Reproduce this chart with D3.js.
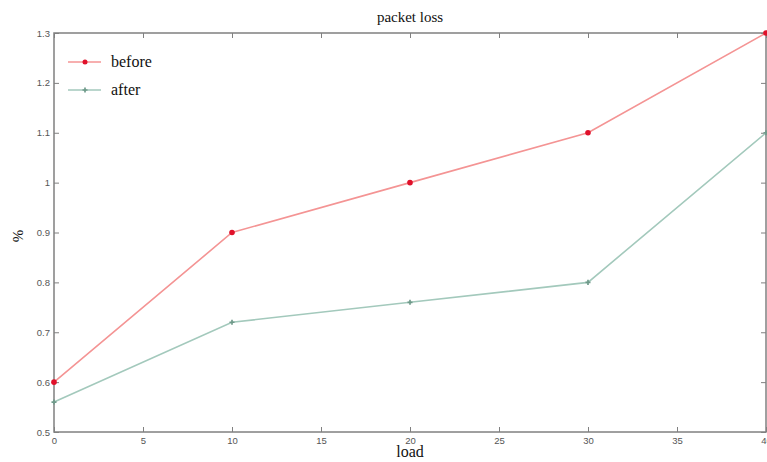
<!DOCTYPE html>
<html><head><meta charset="utf-8">
<script src="https://cdn.jsdelivr.net/npm/d3@7"></script>
<style>body{margin:0;background:#fff;overflow:hidden}</style>
</head><body>
<svg id="c" width="767" height="462"></svg>
<script>
const loads = [0, 10, 20, 30, 40];
const before = [0.6, 0.9, 1.0, 1.1, 1.3];
const after = [0.56, 0.72, 0.76, 0.8, 1.1];
const xTicks = [0, 5, 10, 15, 20, 25, 30, 35, 40];
const yTicks = [0.5, 0.6, 0.7, 0.8, 0.9, 1, 1.1, 1.2, 1.3];
const seriesNames = ["before", "after"];

const svg = d3.select("#c");
const L = 54, R = 766, T = 33, B = 432;
const x = d3.scaleLinear().domain([0, 40]).range([L, R]);
const y = d3.scaleLinear().domain([0.5, 1.3]).range([B, T]);
const axisCol = "#808080";

svg.append("rect").attr("x", L).attr("y", T).attr("width", R - L).attr("height", B - T)
  .attr("fill", "none").attr("stroke", axisCol).attr("stroke-width", 1.5);

const gx = svg.append("g").attr("transform", `translate(0,${B})`)
  .call(d3.axisBottom(x).tickValues(xTicks).tickSize(-5).tickPadding(5).tickFormat(d3.format("d")));
const gxt = svg.append("g").attr("transform", `translate(0,${T})`)
  .call(d3.axisTop(x).tickValues(xTicks).tickSize(-5).tickFormat(""));
const gy = svg.append("g").attr("transform", `translate(${L},0)`)
  .call(d3.axisLeft(y).tickValues(yTicks).tickSize(-5).tickPadding(4).tickFormat(d => String(+d.toFixed(1))));
const gyr = svg.append("g").attr("transform", `translate(${R},0)`)
  .call(d3.axisRight(y).tickValues(yTicks).tickSize(-5).tickFormat(""));
[gx, gxt, gy, gyr].forEach(g => {
  g.select(".domain").remove();
  g.selectAll("line").attr("stroke", axisCol).attr("stroke-width", 1);
  g.selectAll("text").attr("fill", "#555").attr("font-family", "Liberation Sans, Arial, sans-serif").attr("font-size", 9.5);
});

const line = d3.line().x((d, i) => x(loads[i])).y(d => y(d));
const colors = { before: "#f49494", after: "#a3c9bc" };
const markCols = { before: "#e0102a", after: "#6f9a8a" };

svg.append("path").datum(after).attr("d", line).attr("fill", "none").attr("stroke", colors.after).attr("stroke-width", 1.6);
svg.append("path").datum(before).attr("d", line).attr("fill", "none").attr("stroke", colors.before).attr("stroke-width", 1.6);

svg.selectAll(".mb").data(before).enter().append("circle")
  .attr("cx", (d, i) => x(loads[i])).attr("cy", d => y(d)).attr("r", 2.8).attr("fill", markCols.before);
const plus = d3.symbol().type(d3.symbolCross).size(14);
svg.selectAll(".ma").data(after).enter().append("path")
  .attr("transform", (d, i) => `translate(${x(loads[i])},${y(d)})`)
  .attr("d", plus).attr("fill", markCols.after);

seriesNames.forEach((s, i) => {
  const ly = 62 + i * 28;
  svg.append("line").attr("x1", 68).attr("x2", 101).attr("y1", ly).attr("y2", ly)
    .attr("stroke", colors[s]).attr("stroke-width", 1.6);
  if (s === "before") svg.append("circle").attr("cx", 85).attr("cy", ly).attr("r", 2.5).attr("fill", markCols.before);
  else svg.append("path").attr("transform", `translate(85,${ly})`).attr("d", plus).attr("fill", markCols.after);
  svg.append("text").attr("x", 111).attr("y", ly + 5).text(s)
    .attr("font-family", "Liberation Serif, Times New Roman, serif").attr("font-size", 16).attr("fill", "#111");
});

svg.append("text").attr("x", 410).attr("y", 22).attr("text-anchor", "middle").text("packet loss")
  .attr("font-family", "Liberation Serif, Times New Roman, serif").attr("font-size", 15).attr("fill", "#111");
svg.append("text").attr("x", 410).attr("y", 457).attr("text-anchor", "middle").text("load")
  .attr("font-family", "Liberation Serif, Times New Roman, serif").attr("font-size", 16).attr("fill", "#111");
svg.append("text").attr("transform", "translate(23,236) rotate(-90)").attr("text-anchor", "middle").text("%")
  .attr("font-family", "Liberation Serif, Times New Roman, serif").attr("font-size", 15).attr("fill", "#111");
</script>
</body></html>
